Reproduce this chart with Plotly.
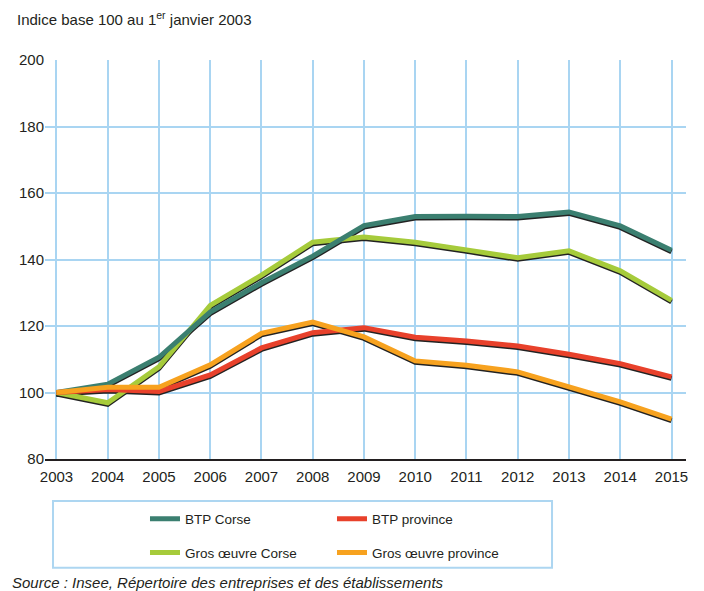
import plotly.graph_objects as go

years = list(range(2003, 2016))
btp_corse = [100, 102.5, 110.6, 124.2, 133.0, 141.0, 150.2, 152.9, 153.0, 152.9, 154.3, 150.1, 142.8]
gros_corse = [100, 96.9, 107.7, 126.2, 135.3, 145.2, 146.8, 145.2, 142.9, 140.5, 142.6, 136.6, 127.7]
btp_prov = [100, 100.9, 100.3, 105.3, 113.4, 118.0, 119.5, 116.6, 115.5, 114.0, 111.5, 108.7, 104.7]
gros_prov = [100, 101.6, 101.6, 108.3, 117.8, 121.2, 116.7, 109.5, 108.2, 106.2, 101.7, 97.2, 92.0]
y_ticks = [80, 100, 120, 140, 160, 180, 200]

series = [
    ("Gros œuvre Corse", gros_corse, "#a6cb3b", "legend2", 3),
    ("BTP Corse", btp_corse, "#3b7f70", "legend", 1),
    ("BTP province", btp_prov, "#e8412b", "legend", 2),
    ("Gros œuvre province", gros_prov, "#f7a21f", "legend2", 4),
]

FONT = "Liberation Sans, Arial, sans-serif"
fig = go.Figure()

# shadows on the hidden (slightly shifted) y axis
for name, vals, col, lg, rk in series:
    fig.add_trace(go.Scatter(x=years, y=vals, mode="lines", yaxis="y",
                             line=dict(color="#222222", width=5),
                             showlegend=False, hoverinfo="skip"))
# coloured lines on the visible axis
for name, vals, col, lg, rk in series:
    fig.add_trace(go.Scatter(x=years, y=vals, mode="lines", yaxis="y2", name=name,
                             line=dict(color=col, width=5), legend=lg, legendrank=rk))

grid = "#a9d5f2"
fig.update_layout(
    width=704, height=591,
    margin=dict(l=45, r=18, t=59.5, b=132, autoexpand=False),
    paper_bgcolor="white", plot_bgcolor="white",
    font=dict(family=FONT, size=15, color="#231f20"),
    xaxis=dict(range=[2002.776, 2015.283], tickmode="array", tickvals=years,
               ticktext=[str(y) for y in years], showgrid=True, gridcolor=grid,
               gridwidth=2, showline=True, linecolor="#231f20", linewidth=2,
               ticks="", zeroline=False, tickfont=dict(size=15), ticklabelstandoff=3),
    yaxis=dict(range=[80.45, 200.45], showgrid=False, showticklabels=False,
               zeroline=False, showline=False, ticks=""),
    yaxis2=dict(range=[80, 200], overlaying="y", side="left", tickmode="array",
                tickvals=y_ticks, showgrid=True, gridcolor=grid, gridwidth=2,
                zeroline=False, showline=False, ticks="", tickfont=dict(size=15)),
    legend=dict(orientation="h", x=0.156, xanchor="left", y=-0.150, yanchor="middle",
                entrywidth=142, entrywidthmode="pixels", font=dict(size=13.5),
                bgcolor="rgba(0,0,0,0)", borderwidth=0),
    legend2=dict(orientation="h", x=0.156, xanchor="left", y=-0.235, yanchor="middle",
                 entrywidth=142, entrywidthmode="pixels", font=dict(size=13.5),
                 bgcolor="rgba(0,0,0,0)", borderwidth=0),
    showlegend=True,
)

fig.add_shape(type="rect", xref="paper", yref="paper",
              x0=0.0125, x1=0.791, y0=-0.2728, y1=-0.1051,
              line=dict(color="#add6f1", width=2), fillcolor="rgba(0,0,0,0)")

fig.add_annotation(text="Indice base 100 au 1<sup>er</sup> janvier 2003",
                   xref="paper", yref="paper", x=-0.0468, y=1.104,
                   xanchor="left", yanchor="middle", showarrow=False,
                   font=dict(size=15))
fig.add_annotation(text="<i>Source : Insee, Répertoire des entreprises et des établissements</i>",
                   xref="paper", yref="paper", x=-0.0546, y=-0.310,
                   xanchor="left", yanchor="middle", showarrow=False,
                   font=dict(size=15))

fig.write_html("out.html", config={"displayModeBar": False},
               post_script="document.body.style.margin='0';")
